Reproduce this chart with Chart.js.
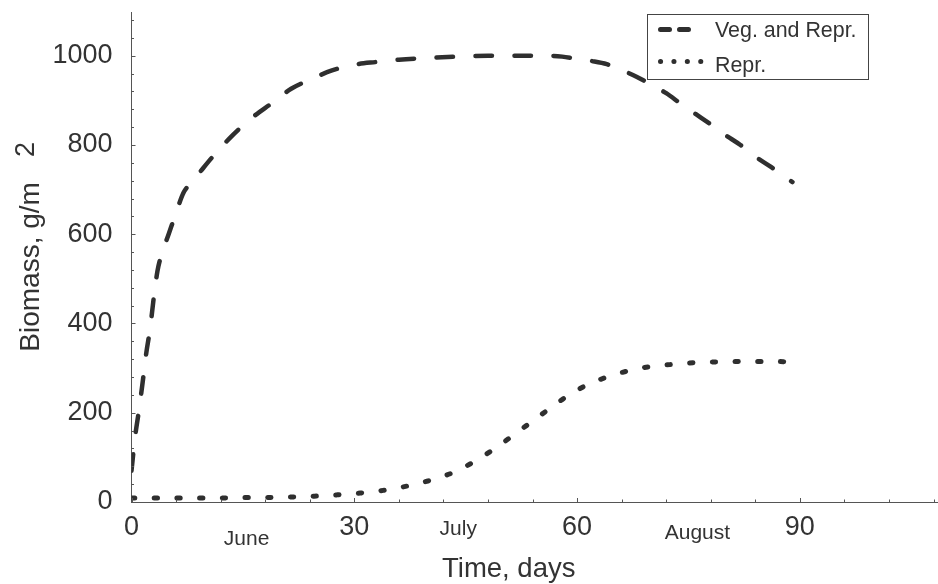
<!DOCTYPE html>
<html><head><meta charset="utf-8">
<script src="https://cdn.jsdelivr.net/npm/chart.js@4.4.1/dist/chart.umd.min.js"></script>
<style>html,body{margin:0;padding:0;background:#fff;}#wrap{width:938px;height:584px;}</style>
</head><body><div id="wrap"><canvas id="c" width="938" height="584"></canvas></div>
<script>
// ---- data ----
const vegDays   = [0, 0.5, 1, 1.5, 2, 2.5, 3, 3.5, 4, 5, 6, 7, 8, 9, 11, 13.5, 16, 19, 21.5, 24, 27, 30, 33, 36, 40, 44, 48, 52, 56, 58, 60, 62, 64, 66, 68, 70, 72, 74, 76, 78, 80, 82, 84, 86, 88, 89];
const vegValues = [70, 148, 205, 268, 335, 388, 458, 518, 552, 600, 648, 693, 715, 735, 775, 820, 858, 895, 926, 946, 967, 980, 986, 991, 995, 998, 1000, 1000, 1000, 998, 993, 988, 981, 968, 953, 935, 916, 892, 869, 846, 822, 800, 774, 752, 728, 717];
const reprDays   = [0, 3, 6, 9, 12, 15, 18, 21, 24.6, 27.7, 30.8, 33.9, 36.9, 39.9, 43, 46, 49.1, 52.1, 55.2, 58.3, 61.3, 64.4, 67.4, 70.5, 73.5, 76.4, 79.7, 82.7, 85.7, 88.8];
const reprValues = [9, 9, 9, 9, 9, 10, 10, 11, 13, 16, 20, 26, 35, 47, 64, 89, 122, 158, 196, 233, 262, 282, 296, 305, 309, 313, 314, 315, 315, 314];
const xTicks = [0, 30, 60, 90];
const yTicks = [0, 200, 400, 600, 800, 1000];
const monthNames = ['June', 'July', 'August'];
const seriesLabels = ['Veg. and Repr.', 'Repr.'];
const xTitle = 'Time, days';
const yTitle = 'Biomass, g/m';
const yTitleSup = '2';

// ---- styling ----
const FONT = "'Liberation Sans', Arial, Helvetica, sans-serif";
const INK = '#2f2f2f';
const TXT = '#333333';
const AX = '#555555';

const pts = (xs, ys) => xs.map((x, i) => ({x: x, y: ys[i]}));

const decorPlugin = {
  id: 'decor',
  afterDatasetsDraw(chart) {
    const ctx = chart.ctx, xs = chart.scales.x, ys = chart.scales.y, ca = chart.chartArea;
    ctx.save();
    // inward tick marks
    ctx.strokeStyle = AX; ctx.lineWidth = 1;
    ctx.beginPath();
    for (let v = 0; v <= xs.max + 1e-9; v += 6) {
      const px = Math.round(xs.getPixelForValue(v)) + 0.5;
      const len = (v % 30 === 0) ? 4 : 2.5;
      ctx.moveTo(px, ca.bottom); ctx.lineTo(px, ca.bottom - len);
    }
    for (let v = 0; v <= ys.max + 1e-9; v += 40) {
      const py = Math.round(ys.getPixelForValue(v)) + 0.5;
      const len = (v % 200 === 0) ? 4 : 2.5;
      ctx.moveTo(ca.left, py); ctx.lineTo(ca.left + len, py);
    }
    ctx.stroke();

    // month labels
    ctx.fillStyle = TXT;
    ctx.font = '21px ' + FONT;
    ctx.textAlign = 'center'; ctx.textBaseline = 'alphabetic';
    const monthPos = [[15.5, 545], [44.0, 535], [76.2, 539]];
    monthNames.forEach((m, i) => ctx.fillText(m, xs.getPixelForValue(monthPos[i][0]), monthPos[i][1]));

    // axis titles
    ctx.font = '27.5px ' + FONT;
    ctx.textAlign = 'left';
    ctx.fillText(xTitle, 442, 577);
    ctx.save();
    ctx.translate(38.5, 351.7);
    ctx.rotate(-Math.PI / 2);
    ctx.font = '28px ' + FONT;
    ctx.fillText(yTitle, 0, 0);
    ctx.restore();
    ctx.save();
    ctx.translate(33.5, 157);
    ctx.rotate(-Math.PI / 2);
    ctx.font = '27px ' + FONT;
    ctx.fillText(yTitleSup, 0, 0);
    ctx.restore();

    // legend
    const bx = 647.5, by = 14.5, bw = 221, bh = 65;
    ctx.fillStyle = '#ffffff';
    ctx.fillRect(bx, by, bw, bh);
    ctx.strokeStyle = '#444'; ctx.lineWidth = 1;
    ctx.strokeRect(bx, by, bw, bh);
    const ds = chart.data.datasets;
    ctx.strokeStyle = INK; ctx.lineCap = 'round';
    ctx.lineWidth = 5;
    ctx.setLineDash([9, 10]);
    ctx.beginPath(); ctx.moveTo(660.5, 29.5); ctx.lineTo(689, 29.5); ctx.stroke();
    ctx.setLineDash([0.1, 13.3]);
    ctx.beginPath(); ctx.moveTo(660.5, 61.5); ctx.lineTo(701, 61.5); ctx.stroke();
    ctx.setLineDash([]);
    ctx.fillStyle = TXT;
    ctx.font = '21.4px ' + FONT;
    ctx.textAlign = 'left';
    ctx.fillText(ds[0].label, 715, 37);
    ctx.fillText(ds[1].label, 715, 72);
    ctx.restore();
  }
};

new Chart(document.getElementById('c'), {
  type: 'scatter',
  data: {
    datasets: [
      {
        label: seriesLabels[0],
        data: pts(vegDays, vegValues),
        showLine: true, pointRadius: 0, pointHoverRadius: 0,
        borderColor: INK, borderWidth: 4.5,
        borderDash: [16.5, 22.5], borderCapStyle: 'round', borderJoinStyle: 'round',
        cubicInterpolationMode: 'monotone', fill: false
      },
      {
        label: seriesLabels[1],
        data: pts(reprDays, reprValues),
        showLine: true, pointRadius: 0, pointHoverRadius: 0,
        borderColor: INK, borderWidth: 5,
        borderDash: [3.3, 19.4], borderCapStyle: 'round', borderJoinStyle: 'round',
        cubicInterpolationMode: 'monotone', fill: false
      }
    ]
  },
  options: {
    responsive: false, animation: false, devicePixelRatio: 1,
    layout: {padding: {top: 12, left: 0, right: 0, bottom: 0}},
    plugins: {legend: {display: false}, tooltip: {enabled: false}},
    scales: {
      x: {
        type: 'linear', min: 0, max: 108.6,
        grid: {display: false},
        border: {display: true, color: AX, width: 1},
        afterBuildTicks: s => { s.ticks = xTicks.map(v => ({value: v})); },
        afterFit: s => { s.height = 82; s.paddingLeft = 0; s.paddingRight = 0; },
        ticks: {font: {family: FONT, size: 27}, color: TXT, padding: 1, maxRotation: 0, autoSkip: false,
                callback: v => String(v)}
      },
      y: {
        type: 'linear', min: 0, max: 1098,
        grid: {display: false},
        border: {display: true, color: AX, width: 1},
        afterBuildTicks: s => { s.ticks = yTicks.map(v => ({value: v})); },
        afterFit: s => { s.width = 131.5; s.paddingTop = 0; s.paddingBottom = 0; },
        ticks: {font: {family: FONT, size: 27}, color: TXT, padding: 11,
                callback: v => String(v)}
      }
    }
  },
  plugins: [decorPlugin]
});
</script></body></html>
